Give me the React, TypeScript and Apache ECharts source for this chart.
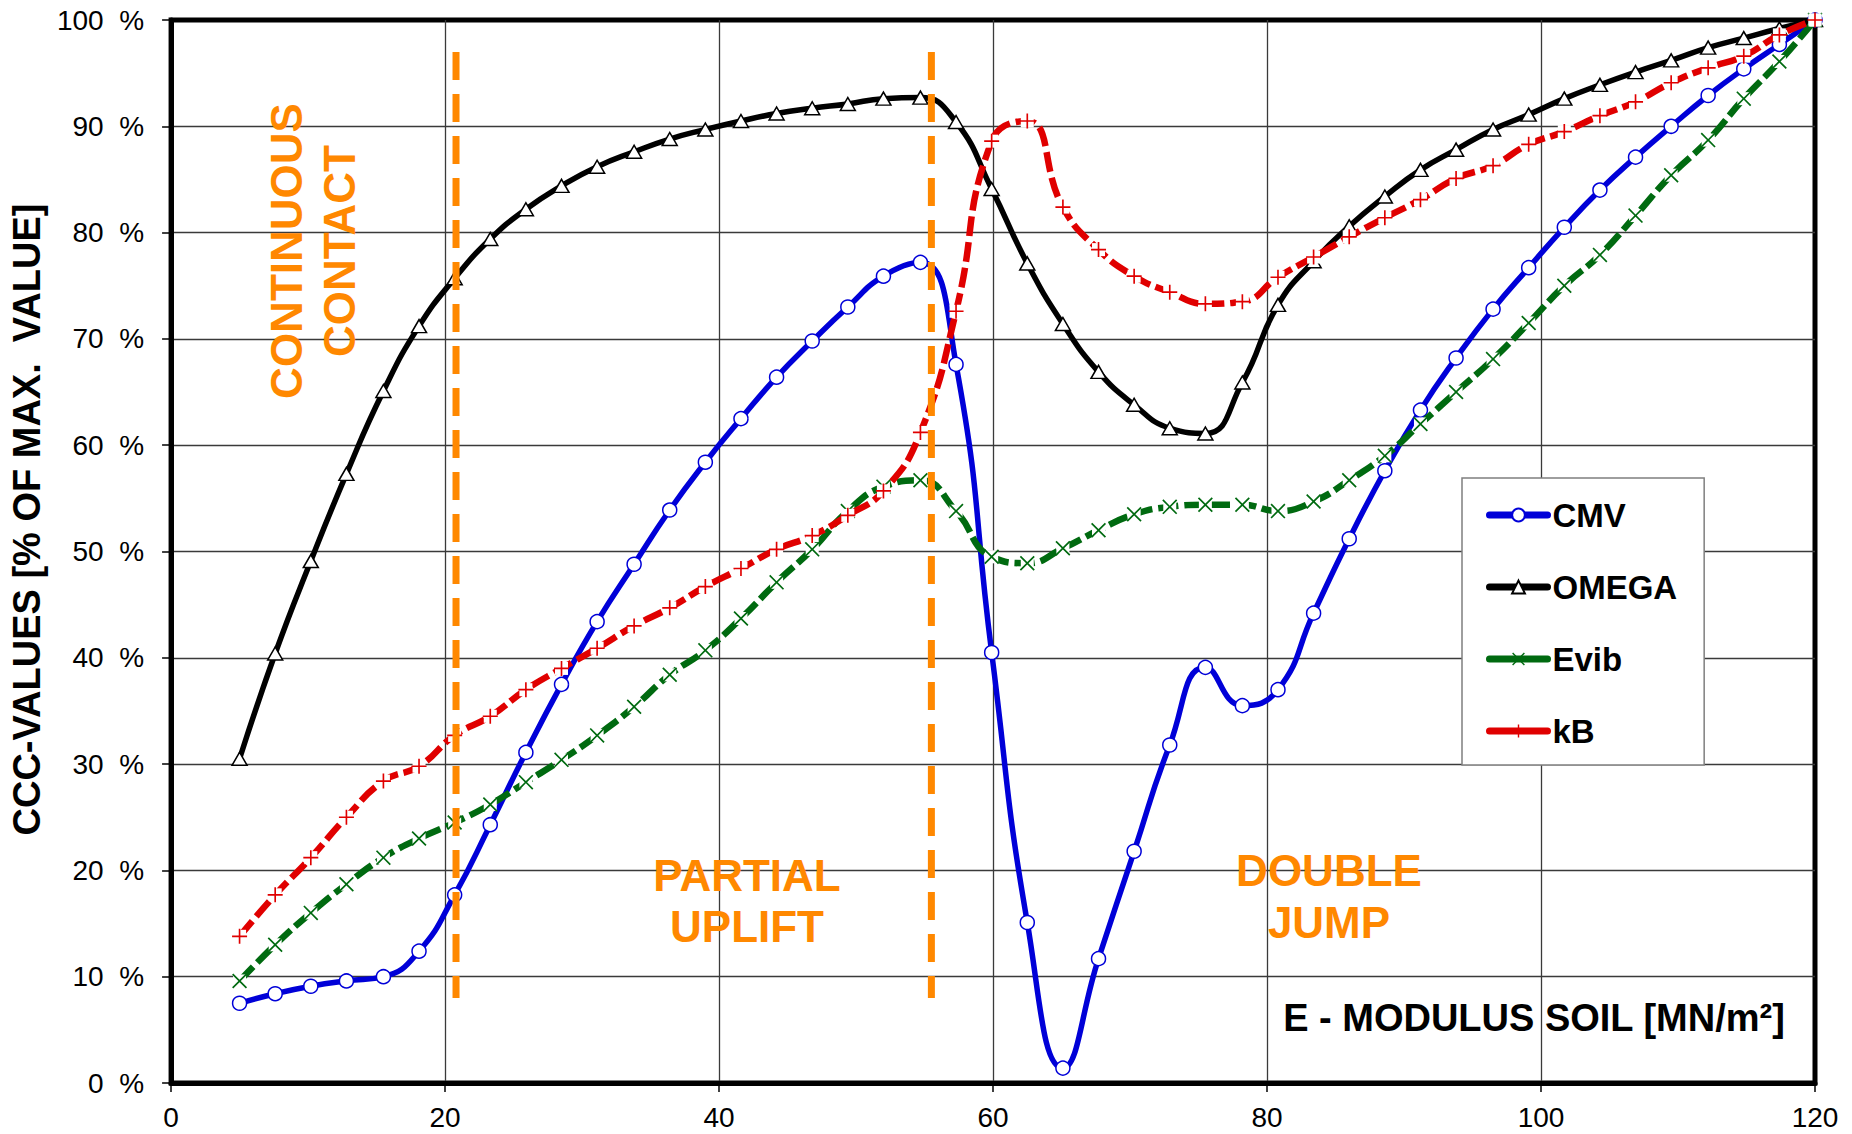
import { useEffect, useRef } from 'react';
import * as echarts from 'echarts';

// E-modulus of the soil [MN/m²] at every measured point
const E_MODULUS = [5.0, 7.6, 10.2, 12.8, 15.5, 18.1, 20.7, 23.3, 25.9, 28.5, 31.1, 33.8, 36.4, 39.0, 41.6, 44.2, 46.8, 49.4, 52.0, 54.7, 57.3, 59.9, 62.5, 65.1, 67.7, 70.3, 72.9, 75.5, 78.2, 80.8, 83.4, 86.0, 88.6, 91.2, 93.8, 96.5, 99.1, 101.7, 104.3, 106.9, 109.5, 112.2, 114.8, 117.4, 120.0];

// CCC values in % of max. value
const CMV = [7.5, 8.4, 9.1, 9.6, 10.0, 12.4, 17.7, 24.3, 31.1, 37.5, 43.4, 48.8, 53.9, 58.4, 62.5, 66.4, 69.8, 73.0, 75.9, 77.2, 67.6, 40.5, 15.1, 1.4, 11.7, 21.8, 31.8, 39.1, 35.5, 37.0, 44.2, 51.2, 57.6, 63.3, 68.2, 72.8, 76.7, 80.5, 84.0, 87.1, 90.0, 92.9, 95.4, 97.7, 100];
const OMEGA = [30.5, 40.4, 49.1, 57.3, 65.1, 71.2, 75.7, 79.4, 82.2, 84.4, 86.2, 87.6, 88.8, 89.7, 90.5, 91.2, 91.7, 92.1, 92.6, 92.7, 90.4, 84.1, 77.1, 71.4, 66.9, 63.8, 61.6, 61.1, 65.9, 73.2, 77.3, 80.6, 83.4, 85.9, 87.8, 89.7, 91.1, 92.6, 93.9, 95.1, 96.2, 97.4, 98.3, 99.2, 100];
const EVIB = [9.6, 13.0, 16.0, 18.7, 21.2, 23.0, 24.5, 26.2, 28.3, 30.4, 32.7, 35.4, 38.4, 40.7, 43.7, 47.1, 50.2, 53.8, 56.1, 56.7, 53.8, 49.5, 48.9, 50.3, 52.0, 53.5, 54.2, 54.4, 54.4, 53.8, 54.7, 56.7, 59.0, 62.0, 65.0, 68.1, 71.5, 75.0, 77.9, 81.6, 85.4, 88.7, 92.6, 96.1, 100];
const KB = [13.8, 17.7, 21.2, 25.0, 28.4, 29.8, 32.7, 34.5, 37.0, 39.0, 40.9, 43.0, 44.7, 46.7, 48.4, 50.2, 51.5, 53.4, 55.7, 61.2, 72.6, 88.6, 90.5, 82.4, 78.4, 75.9, 74.4, 73.3, 73.5, 75.8, 77.7, 79.6, 81.4, 83.1, 85.1, 86.3, 88.3, 89.5, 91.0, 92.3, 94.1, 95.5, 96.6, 98.6, 100];

const SERIES_NAMES = ['CMV', 'OMEGA', 'Evib', 'kB'];

// zone boundaries (E-modulus) and their vertical extent (%)
const BOUNDARY_X = [20.8, 55.5];
const BOUNDARY_Y = [97, 8];

const ZONE_LABELS = ['CONTINUOUS\nCONTACT', 'PARTIAL\nUPLIFT', 'DOUBLE\nJUMP'];
const X_TITLE = 'E - MODULUS SOIL [MN/m²]';
const Y_TITLE = 'CCC-VALUES [% OF MAX.  VALUE]';

const FONT = '"Liberation Sans", Arial, Helvetica, sans-serif';
const ORANGE = '#ff8800';
const BLUE = '#0000d8';
const GREEN = '#006a10';
const RED = '#e00000';

const X_SYMBOL = 'path://M0,0.8L0.8,0L5,4.2L9.2,0L10,0.8L5.8,5L10,9.2L9.2,10L5,5.8L0.8,10L0,9.2L4.2,5Z';
const PLUS_SYMBOL = 'path://M4.45,0H5.55V4.45H10V5.55H5.55V10H4.45V5.55H0V4.45H4.45Z';

export default function App() {
  const ref = useRef<HTMLDivElement>(null);

  useEffect(() => {
    const chart = echarts.init(ref.current!, null, { renderer: 'svg' });
    const pairs = (ys: number[]) => E_MODULUS.map((x, i) => [x, ys[i]]);

    const boundarySeries = BOUNDARY_X.map((bx, i) => ({
      type: 'line',
      name: 'boundary' + i,
      data: BOUNDARY_Y.map((by) => [bx, by]),
      showSymbol: false,
      symbol: 'none',
      z: 12,
      silent: true,
      lineStyle: { color: ORANGE, width: 7, type: [28, 14] },
      emphasis: { disabled: true },
    }));

    // white marker backgrounds (break the dashed line around each marker) + markers
    const markerSeries = (name: string, ys: number[], symbol: string, color: string, z: number) => [
      {
        type: 'scatter',
        name: name + ' bg',
        data: pairs(ys),
        symbol: 'rect',
        symbolSize: 13,
        clip: false,
        silent: true,
        z,
        itemStyle: { color: '#ffffff', opacity: 1 },
        emphasis: { disabled: true },
      },
      {
        type: 'scatter',
        name: name + ' marker',
        data: pairs(ys),
        symbol,
        symbolSize: 15,
        clip: false,
        silent: true,
        z: z + 1,
        itemStyle: { color, opacity: 1 },
        emphasis: { disabled: true },
      },
    ];

    const textStyle = (text: string, lineHeight: number) => ({
      text,
      fill: ORANGE,
      font: `bold 44px ${FONT}`,
      lineHeight,
      align: 'center',
      verticalAlign: 'middle',
      textAlign: 'center',
      textVerticalAlign: 'middle',
    });

    const option: any = {
      animation: false,
      backgroundColor: '#ffffff',
      textStyle: { fontFamily: FONT },
      grid: {
        left: 171,
        right: 37,
        top: 20,
        bottom: 51,
        show: true,
        borderColor: '#000',
        borderWidth: 5,
        backgroundColor: 'transparent',
      },
      xAxis: {
        type: 'value',
        min: 0,
        max: 120,
        interval: 20,
        axisLine: { show: true, lineStyle: { color: '#000', width: 5 } },
        axisTick: { show: true, length: 9, lineStyle: { color: '#000', width: 1.5 } },
        axisLabel: { color: '#000', fontSize: 28, margin: 20, fontFamily: FONT },
        splitLine: { show: true, showMinLine: false, showMaxLine: false, lineStyle: { color: '#3a3a3a', width: 1.3 } },
      },
      yAxis: {
        type: 'value',
        min: 0,
        max: 100,
        interval: 10,
        name: Y_TITLE,
        nameLocation: 'middle',
        nameGap: 118,
        nameTextStyle: {
          color: '#000',
          fontSize: 38,
          fontWeight: 'bold',
          fontFamily: FONT,
          padding: [0, 0, 0, 64],
        },
        axisLine: { show: true, lineStyle: { color: '#000', width: 5 } },
        axisTick: { show: true, length: 9, lineStyle: { color: '#000', width: 1.5 } },
        axisLabel: {
          color: '#000',
          fontSize: 28,
          margin: 27,
          fontFamily: FONT,
          formatter: (v: number) => `${v}\u00a0\u00a0%`,
        },
        splitLine: { show: true, showMinLine: false, showMaxLine: false, lineStyle: { color: '#3a3a3a', width: 1.3 } },
      },
      legend: {
        data: SERIES_NAMES,
        orient: 'vertical',
        left: 1462,
        top: 478,
        itemWidth: 58,
        itemHeight: 16,
        itemGap: 36,
        padding: [19, 27, 16, 24],
        backgroundColor: '#ffffff',
        borderColor: '#7f7f7f',
        borderWidth: 1.5,
        selectedMode: false,
        lineStyle: { type: 'solid', width: 7, cap: 'round' },
        textStyle: { color: '#000', fontSize: 33, fontWeight: 'bold', fontFamily: FONT, lineHeight: 36 },
        z: 20,
      },
      graphic: [
        { type: 'text', x: 313, y: 251, rotation: Math.PI / 2, z: 30, style: textStyle(ZONE_LABELS[0], 53) },
        { type: 'text', x: 747, y: 901, z: 30, style: textStyle(ZONE_LABELS[1], 51) },
        { type: 'text', x: 1329, y: 896, z: 30, style: textStyle(ZONE_LABELS[2], 52) },
        {
          type: 'text',
          x: 1534,
          y: 1018,
          z: 30,
          style: {
            text: X_TITLE,
            fill: '#000',
            font: `bold 38px ${FONT}`,
            align: 'center',
            verticalAlign: 'middle',
            textAlign: 'center',
            textVerticalAlign: 'middle',
          },
        },
      ],
      series: [
        {
          type: 'line',
          name: 'CMV',
          data: pairs(CMV),
          smooth: 0.5,
          clip: false,
          z: 2,
          symbol: 'circle',
          symbolSize: 14,
          lineStyle: { color: BLUE, width: 5.5 },
          itemStyle: { color: '#fff', borderColor: BLUE, borderWidth: 1.5 },
          emphasis: { disabled: true },
        },
        {
          type: 'line',
          name: 'OMEGA',
          data: pairs(OMEGA),
          smooth: 0.5,
          clip: false,
          z: 3,
          symbol: 'triangle',
          symbolSize: [15, 13],
          lineStyle: { color: '#000', width: 5.5 },
          itemStyle: { color: '#fff', borderColor: '#000', borderWidth: 1.5 },
          emphasis: { disabled: true },
        },
        {
          type: 'line',
          name: 'Evib',
          data: pairs(EVIB),
          smooth: 0.5,
          clip: false,
          z: 4,
          symbol: X_SYMBOL,
          symbolSize: 15,
          showSymbol: false,
          lineStyle: { color: GREEN, width: 6.5, type: [20, 6] },
          itemStyle: { color: GREEN, borderWidth: 0 },
          emphasis: { disabled: true },
        },
        ...markerSeries('Evib', EVIB, X_SYMBOL, GREEN, 5),
        {
          type: 'line',
          name: 'kB',
          data: pairs(KB),
          smooth: 0.5,
          clip: false,
          z: 7,
          symbol: PLUS_SYMBOL,
          symbolSize: 15,
          showSymbol: false,
          lineStyle: { color: RED, width: 6.5, type: [20, 6] },
          itemStyle: { color: RED, borderWidth: 0 },
          emphasis: { disabled: true },
        },
        ...markerSeries('kB', KB, PLUS_SYMBOL, RED, 8),
        ...boundarySeries,
      ],
    };

    chart.setOption(option);
    return () => chart.dispose();
  }, []);

  return (
    <div
      ref={ref}
      style={{ position: 'fixed', left: 0, top: 0, width: 1852, height: 1134, background: '#ffffff' }}
    />
  );
}
